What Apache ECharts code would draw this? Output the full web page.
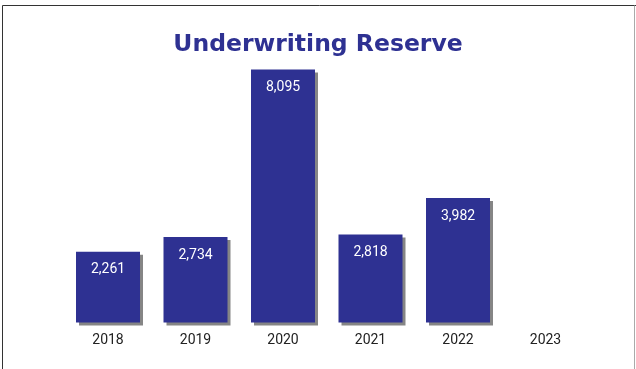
<!DOCTYPE html>
<html>
<head>
<meta charset="utf-8">
<style>
  html, body { margin: 0; padding: 0; background: #fff; }
  #chart { width: 636px; height: 369px; }
</style>
<script src="https://cdn.jsdelivr.net/npm/echarts@6/dist/echarts.min.js"></script>
</head>
<body>
<div id="chart"></div>
<script>
// Underwriting reserve by year
const years = ['2018', '2019', '2020', '2021', '2022', '2023'];
const reserve = [2261, 2734, 8095, 2818, 3982, null];

const NAVY = '#2e3192';

const chart = echarts.init(document.getElementById('chart'), null, { renderer: 'canvas' });

chart.setOption({
  backgroundColor: '#fff',
  animation: false,
  title: {
    text: 'Underwriting Reserve',
    left: 'center',
    top: 28,
    textStyle: {
      color: NAVY,
      fontFamily: 'DejaVu Sans',
      fontWeight: 'bold',
      fontSize: 23.5
    }
  },
  grid: {
    left: 64.25,
    right: 46.75,
    top: 60,
    bottom: 46.5,
    containLabel: false
  },
  xAxis: {
    type: 'category',
    data: years,
    axisLine: { show: false },
    axisTick: { show: false },
    axisLabel: {
      color: '#222',
      fontFamily: 'Roboto',
      fontSize: 14,
      margin: 11
    }
  },
  yAxis: {
    type: 'value',
    min: 0,
    max: 8400,
    show: false,
    splitLine: { show: false }
  },
  series: [{
    type: 'bar',
    data: reserve,
    barWidth: 64,
    itemStyle: {
      color: NAVY,
      shadowColor: '#858585',
      shadowBlur: 0,
      shadowOffsetX: 3,
      shadowOffsetY: 3
    },
    label: {
      show: true,
      position: 'insideTop',
      distance: 11,
      color: '#fff',
      fontFamily: 'Roboto',
      fontSize: 14,
      formatter: p => p.value.toLocaleString('en-US')
    }
  }],
  graphic: [
    // frame: top and left edges dark, right edge light
    { type: 'line', shape: { x1: 2.5, y1: 5.5, x2: 636, y2: 5.5 }, style: { stroke: '#333', lineWidth: 1 } },
    { type: 'line', shape: { x1: 2.5, y1: 5.5, x2: 2.5, y2: 369 }, style: { stroke: '#333', lineWidth: 1 } },
    { type: 'line', shape: { x1: 634.5, y1: 5.5, x2: 634.5, y2: 369 }, style: { stroke: '#aaa', lineWidth: 1 } }
  ]
});
</script>
</body>
</html>
